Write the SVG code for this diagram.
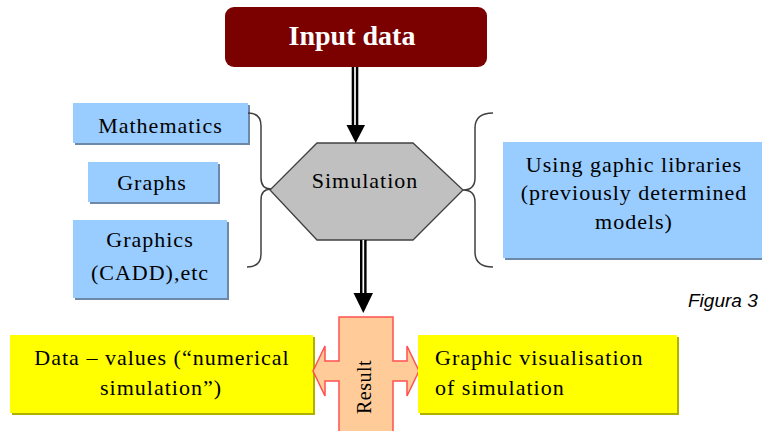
<svg xmlns="http://www.w3.org/2000/svg" width="762" height="431" viewBox="0 0 762 431">
  <style>
    .txt { font-size: 22px; letter-spacing: 1px; fill: #000; }
    .mid { text-anchor: middle; }
    .blue { fill: #99CCFF; }
    .blue-sh { fill: #6E88A8; }
    .yel { fill: #FFFF00; }
    .yel-sh { fill: #B0B000; }
    .brace { fill: none; stroke: #404040; stroke-width: 1.5; }
    .shaft { stroke: #000; stroke-width: 6.6; }
    .gap { stroke: #fff; stroke-width: 1.7; }
  </style>

  <rect width="762" height="431" fill="#fff"/>

  <g font-family="'Liberation Serif', 'Times New Roman', serif">
  <!-- top input node -->
  <g id="input">
    <rect x="225" y="7" width="262" height="60" rx="9" fill="#7B0000"/>
    <text x="352" y="45" text-anchor="middle" font-size="28" font-weight="bold" fill="#fff">Input data</text>
  </g>

  <!-- method boxes on the left -->
  <g id="mathematics">
    <rect x="75" y="105" width="175" height="40" class="blue-sh"/>
    <rect x="73" y="103" width="175" height="40" class="blue"/>
    <text x="160.5" y="133" class="txt mid">Mathematics</text>
  </g>
  <g id="graphs">
    <rect x="90" y="164" width="130" height="40" class="blue-sh"/>
    <rect x="88" y="162" width="130" height="40" class="blue"/>
    <text x="152" y="190" class="txt mid">Graphs</text>
  </g>
  <g id="graphics">
    <rect x="75" y="222" width="154" height="78" class="blue-sh"/>
    <rect x="73" y="220" width="154" height="78" class="blue"/>
    <text x="150" y="247" class="txt mid">Graphics</text>
    <text x="150" y="280" class="txt mid">(CADD),etc</text>
  </g>

  <!-- library box on the right -->
  <g id="libraries">
    <rect x="505" y="144" width="260" height="116" class="blue-sh"/>
    <rect x="503" y="142" width="260" height="116" class="blue"/>
    <text x="634" y="172" class="txt mid">Using gaphic libraries</text>
    <text x="634" y="200" class="txt mid">(previously determined</text>
    <text x="634" y="229" class="txt mid">models)</text>
  </g>

  <!-- central process -->
  <g id="simulation">
    <polygon points="317,143 413,143 463,190 413,240 317,240 270,190" fill="#C0C0C0" stroke="#404040" stroke-width="1.3"/>
    <text x="365" y="188" class="txt mid">Simulation</text>
  </g>

  <!-- output boxes -->
  <g id="numerical">
    <rect x="12" y="337" width="303" height="78" class="yel-sh"/>
    <rect x="10" y="335" width="303" height="78" class="yel"/>
    <text x="162" y="365" class="txt mid">Data – values (“numerical</text>
    <text x="161" y="395" class="txt mid">simulation”)</text>
  </g>

  <g id="result">
    <path d="M339,317 L393,317 L393,361 L407,361 L407,346 L419,371 L407,396 L407,381 L393,381 L393,440 L339,440 L339,381 L325,381 L325,396 L313,371 L325,346 L325,361 L339,361 Z" fill="#FFCC99" stroke="#FF5050" stroke-width="1.5"/>
    <text transform="translate(371,387) rotate(-90)" text-anchor="middle" font-size="20" letter-spacing="0.5">Result</text>
  </g>

  <g id="visual">
    <rect x="420" y="337" width="259" height="78" class="yel-sh"/>
    <rect x="418" y="335" width="259" height="78" class="yel"/>
    <text x="435" y="365" class="txt">Graphic visualisation</text>
    <text x="435" y="395" class="txt">of simulation</text>
  </g>
  </g>

  <text x="688" y="307" font-family="'Liberation Sans', Arial, sans-serif" font-size="19" font-style="italic" fill="#000">Figura 3</text>

  <!-- connectors: double-line arrows and grouping braces -->
  <g id="connectors">
    <line x1="355" y1="67" x2="355" y2="126" class="shaft"/>
    <line x1="355" y1="67" x2="355" y2="126" class="gap"/>
    <polygon points="346.5,125 365,125 355.7,143" fill="#000"/>

    <line x1="363.3" y1="240" x2="363.3" y2="294" class="shaft"/>
    <line x1="363.3" y1="240" x2="363.3" y2="294" class="gap"/>
    <polygon points="353.5,293 373,293 363.3,313" fill="#000"/>

    <path class="brace" d="M248,113 Q261,113 261,126 L261,178 Q261,189 271,189 Q261,189 261,200 L261,254 Q261,267 247,267"/>
    <path class="brace" d="M493,113 Q475,113 475,128 L475,178 Q475,190 463,190 Q475,190 475,202 L475,252 Q475,267 493,267"/>
  </g>
</svg>
